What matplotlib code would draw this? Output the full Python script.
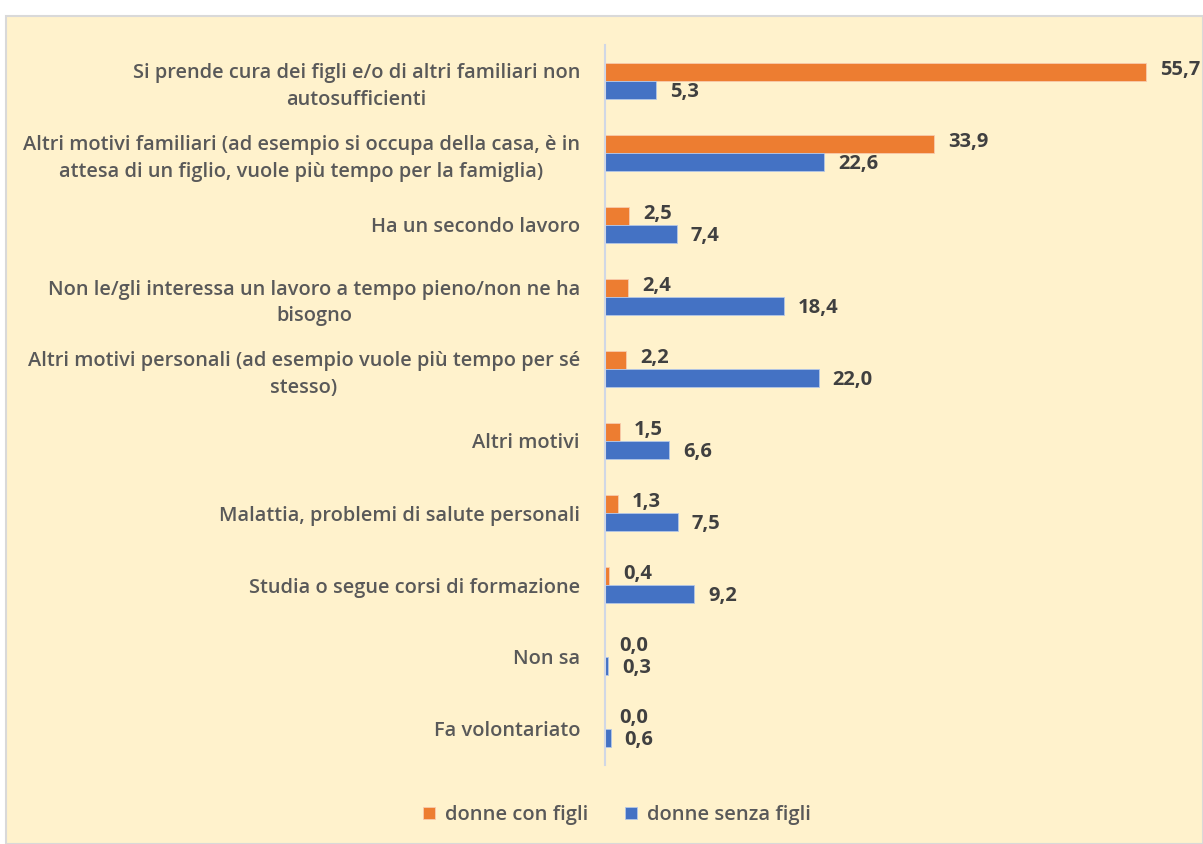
import numpy as np
import matplotlib.pyplot as plt
from matplotlib.patches import Rectangle

categories = [
    "Si prende cura dei figli e/o di altri familiari non\nautosufficienti",
    "Altri motivi familiari (ad esempio si occupa della casa, è in\nattesa di un figlio, vuole più tempo per la famiglia)",
    "Ha un secondo lavoro",
    "Non le/gli interessa un lavoro a tempo pieno/non ne ha\nbisogno",
    "Altri motivi personali (ad esempio vuole più tempo per sé\nstesso)",
    "Altri motivi",
    "Malattia, problemi di salute personali",
    "Studia o segue corsi di formazione",
    "Non sa",
    "Fa volontariato",
]
con_figli = [55.7, 33.9, 2.5, 2.4, 2.2, 1.5, 1.3, 0.4, 0.0, 0.0]
senza_figli = [5.3, 22.6, 7.4, 18.4, 22.0, 6.6, 7.5, 9.2, 0.3, 0.6]
series_names = ["donne con figli", "donne senza figli"]

ORANGE = "#ED7D31"
BLUE = "#4472C4"
BG = "#FFF2CC"
TEXT = "#595959"
VALUE = "#404040"

plt.rcParams["font.family"] = ["Open Sans", "DejaVu Sans"]

fig = plt.figure(figsize=(12.03, 8.44), dpi=100)
fig.patch.set_facecolor("white")
fig.patches.append(Rectangle((6 / 1203, 0), 1 - 6 / 1203, 1 - 16 / 844,
                             transform=fig.transFigure, facecolor=BG,
                             edgecolor="#D9D9D9", linewidth=1.5, zorder=-10))

ax = fig.add_axes([605 / 1203, 1 - 765 / 844, 1 - 605 / 1203, 720 / 844])
ax.set_facecolor("none")

y = np.arange(len(categories))
h = 0.25
b1 = ax.barh(y - h / 2, con_figli, height=h, color=ORANGE, edgecolor="#F8CBAD",
             linewidth=0.6, label=series_names[0])
b2 = ax.barh(y + h / 2, senza_figli, height=h, color=BLUE, edgecolor="#B4C7E7",
             linewidth=0.6, label=series_names[1])

# orange labels nudged up a bit, blue ones down, so the 0,0 / 0,3 pairs don't collide
for bars, vals, dy in ((b1, con_figli, 1.5), (b2, senza_figli, -1.5)):
    for bar, v in zip(bars, vals):
        ax.annotate(f"{v:.1f}".replace(".", ","),
                    (bar.get_width(), bar.get_y() + bar.get_height() / 2),
                    xytext=(10, dy), textcoords="offset points",
                    ha="left", va="center", fontsize=14.5, fontweight="bold",
                    color=VALUE, annotation_clip=False)

ax.set_xlim(0, (1203 - 605) / 9.71)
ax.set_ylim(len(categories) - 0.5, -0.5)
ax.set_yticks(y)
ax.set_yticklabels(categories, fontsize=14.4, color=TEXT, fontweight="semibold",
                   multialignment="center", linespacing=1.45)
ax.tick_params(axis="y", length=0, pad=18)
ax.set_xticks([])
for s in ("top", "right", "bottom"):
    ax.spines[s].set_visible(False)
ax.spines["left"].set_color("#D0D7E5")
ax.spines["left"].set_linewidth(1.5)

fig.legend(handles=[b1, b2], labels=series_names, loc="center",
           bbox_to_anchor=(617 / 1203, 1 - 815 / 844), ncol=2, frameon=False,
           prop={"size": 14.5, "weight": "semibold"}, labelcolor=TEXT,
           handlelength=0.6, handleheight=0.6, handletextpad=0.5,
           columnspacing=1.8)

fig.savefig("out.png", dpi=100)
